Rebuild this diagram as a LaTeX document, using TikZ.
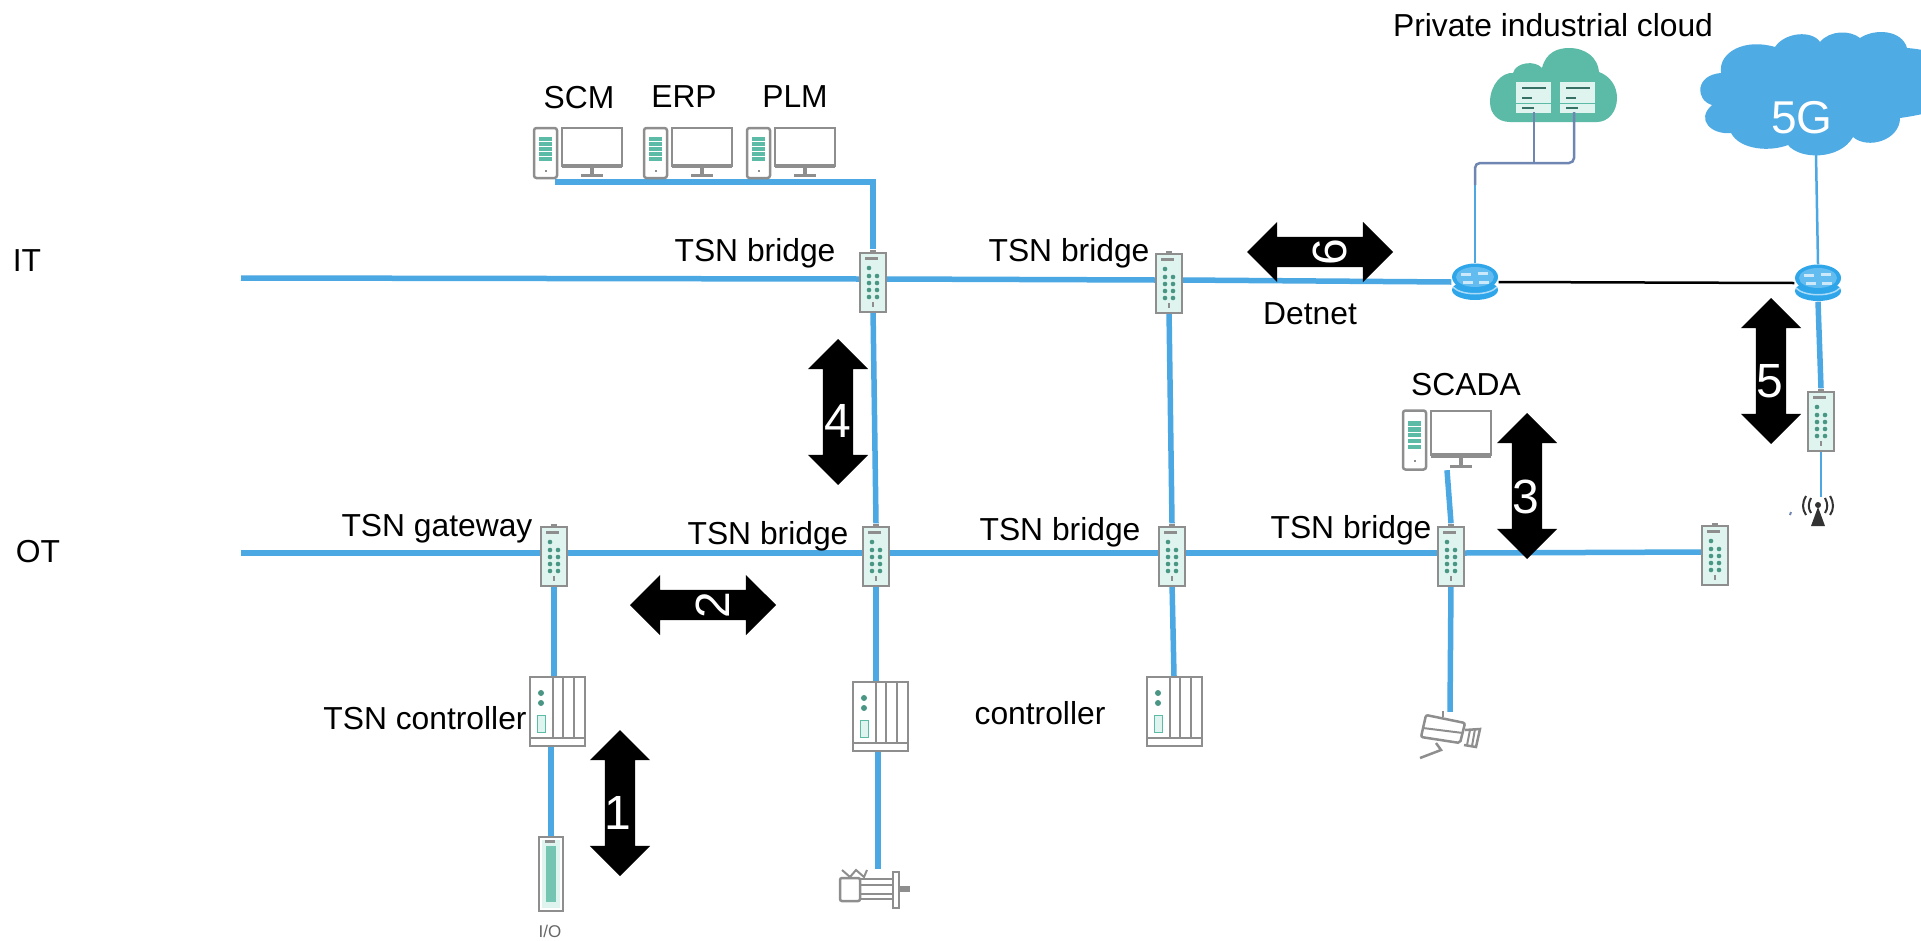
\documentclass[tikz,border=0pt]{standalone}
\usepackage{fontspec}
\setmainfont{Liberation Sans}
\usetikzlibrary{shapes.arrows}
\definecolor{linkblue}{HTML}{4BA8E2}
\definecolor{cloudblue}{HTML}{4FABE4}
\definecolor{routerblue}{HTML}{2FA6EA}
\definecolor{cloudteal}{HTML}{5CBBA6}
\definecolor{iconmint}{HTML}{DFF4EF}
\definecolor{icongrey}{HTML}{8E8E8E}
\definecolor{cablegrey}{HTML}{6F86B2}
\tikzset{
  link/.style={draw=linkblue, line width=5.5},
  thinlink/.style={draw=linkblue, line width=2.5},
  lbl/.style={inner sep=0, font=\fontsize{31.8}{36}\selectfont},
  arrownum/.style={inner sep=0, text=white, font=\fontsize{48}{52}\selectfont},
  blockarrow/.style={double arrow, fill=black, inner xsep=0, inner ysep=15, minimum height=146, minimum width=60, double arrow head extend=15},
  switchbox/.style={inner sep=0, minimum width=26, minimum height=59},
  routerbox/.style={inner sep=0, minimum width=47, minimum height=37},
  ctrlbox/.style={inner sep=0, minimum width=55, minimum height=69},
  switchpic/.pic={
    \draw[icongrey, fill=iconmint, line width=2] (-13,-26) rectangle (13,33);
    \fill[icongrey] (-3,-29) rectangle (3,-26);
    \fill[icongrey] (-8,-22) rectangle (5,-19);
    \fill[cloudteal!80!black] (-4,-11) circle (2.3);
    \foreach \rowy in {-3,4,11,18} {
      \fill[cloudteal!80!black] (-4,\rowy) circle (2.3);
      \fill[cloudteal!80!black] (4,\rowy) circle (2.3);
    }
    \fill[icongrey] (-1,23) rectangle (1,28);
  },
  routerpic/.pic={
    \fill[routerblue] (0,8) ellipse (23 and 10);
    \draw[white!60!routerblue, line width=1.5] (-22,5) .. controls (-14,14) and (14,14) .. (22,5);
    \fill[routerblue] (0,-5) ellipse (23 and 13.5);
    \fill[routerblue!75!white] (0,-5) ellipse (19 and 10);
    \foreach \barx/\bary in {-9/-8,8/-9,-7/0,9/0} {
      \fill[white!75!routerblue] (\barx-5,\bary-1.5) rectangle (\barx+5,\bary+1.5);
    }
  },
  pcpic/.pic={
    \draw[icongrey, fill=white, line width=2.5, rounded corners=2.5] (-44,-25) rectangle (-21,25);
    \foreach \rowy in {-14,-9,-4,1,6} {
      \fill[cloudteal] (-39,\rowy-1.8) rectangle (-26,\rowy+1.8);
    }
    \fill[icongrey] (-33.5,17) rectangle (-31.5,19);
    \draw[icongrey, line width=2] (-16,-25) rectangle (44,13);
    \fill[icongrey] (-16,11) rectangle (44,15);
    \fill[icongrey] (12,15) rectangle (16,21);
    \fill[icongrey] (3,21) rectangle (25,24);
  },
  ctrlpic/.pic={
    \draw[icongrey, fill=white, line width=2] (-27,-34) rectangle (28,35);
    \foreach \divx in {-4,6,17} {
      \draw[icongrey, line width=2] (\divx,-34) -- (\divx,27);
    }
    \draw[icongrey, line width=2.5] (-27,27) -- (28,27);
    \fill[cloudteal!80!black] (-16,-18) circle (3);
    \fill[cloudteal!80!black] (-16,-8) circle (3);
    \draw[cloudteal, fill=iconmint, line width=1] (-20,4) rectangle (-12,21);
  },
  iopic/.pic={
    \draw[icongrey, fill=white, line width=2.5] (-12,-37) rectangle (12,37);
    \fill[iconmint] (-9,-34) rectangle (9,34);
    \fill[cloudteal!85] (-5,-28) rectangle (5,28);
    \fill[icongrey] (-6,-34) rectangle (4,-31);
  },
  motorpic/.pic={
    \draw[icongrey, line width=2.5, rounded corners=2] (-38,-11) rectangle (-18,12);
    \draw[icongrey, line width=2.5] (-18,-10) rectangle (15,10);
    \draw[icongrey, line width=2] (-18,-4) -- (15,-4);
    \draw[icongrey, line width=2] (-18,5) -- (15,5);
    \draw[icongrey, fill=white, line width=2.5] (15,-17) rectangle (21,19);
    \fill[icongrey] (21,-3) rectangle (32,3);
    \draw[icongrey, line width=2] (-36,-19) -- (-28,-12) -- (-22,-19) -- (-14,-12) -- (-11,-19);
  },
  camerapic/.pic={
    \draw[icongrey, line width=2.5, rounded corners=2] (-24,-20) -- (15,-12) -- (10,8) -- (-29,2) -- cycle;
    \draw[icongrey, line width=2] (-27,-7) -- (13,-2);
    \draw[icongrey, line width=2.5] (15,-5) -- (30,-6) -- (26,12) -- (14,10);
    \draw[icongrey, line width=2] (20,-5) -- (17,10);
    \draw[icongrey, line width=2] (25,-6) -- (22,11);
    \draw[icongrey, line width=2.5] (-14,8) -- (-9,15) -- (-30,23);
    \draw[icongrey, line width=2] (-7,-24) -- (-7,-18);
  },
  antennapic/.pic={
    \fill[black!80] (-3,-7) circle (3);
    \fill[black!80] (-3,-5) -- (-10,14) -- (4,14) -- cycle;
    \draw[black!80, line width=2] (-10,-14) .. controls (-13,-8) and (-13,-4) .. (-10,1);
    \draw[black!80, line width=2] (-15,-16) .. controls (-19,-9) and (-19,-3) .. (-15,3);
    \draw[black!80, line width=2] (4,-14) .. controls (7,-8) and (7,-4) .. (4,1);
    \draw[black!80, line width=2] (9,-16) .. controls (13,-9) and (13,-3) .. (9,3);
    \draw[cablegrey, line width=2] (-31,3) -- (-30,0);
  },
}
\begin{document}
\begin{tikzpicture}[x=1pt, y=-1pt]
\useasboundingbox (0,0) rectangle (1921,940);
\clip (0,0) rectangle (1921,940);

% boxes first, the icons go on top of the links
\node[switchbox] (swa) at (873,279) {};
\node[switchbox] (swb) at (1169,280) {};
\node[switchbox] (gw) at (554,553) {};
\node[switchbox] (swc) at (876,553) {};
\node[switchbox] (swd) at (1172,553) {};
\node[switchbox] (swe) at (1451,553) {};
\node[switchbox] (swf) at (1715,552) {};
\node[switchbox] (swg) at (1821,418) {};
\node[routerbox] (rta) at (1475,282) {};
\node[routerbox] (rtb) at (1818,283) {};
\node[ctrlbox] (ctla) at (557,711) {};
\node[ctrlbox] (ctlb) at (880,716) {};
\node[ctrlbox] (ctlc) at (1174,711) {};
\node[inner sep=0, minimum width=24, minimum height=74] (io) at (551,874) {};
\node[inner sep=0, minimum width=70, minimum height=40] (motor) at (878,889) {};
\node[inner sep=0, minimum width=60, minimum height=46] (cam) at (1450,735) {};
\node[inner sep=0, minimum width=90, minimum height=50] (scm) at (578,153) {};
\node[inner sep=0, minimum width=90, minimum height=50] (erp) at (688,153) {};
\node[inner sep=0, minimum width=90, minimum height=50] (plm) at (791,153) {};
\node[inner sep=0, minimum width=90, minimum height=60] (scada) at (1447,440) {};
\node[inner sep=0, minimum width=30, minimum height=30] (ant) at (1821,512) {};
\node[inner sep=0, minimum width=220, minimum height=122] (fiveg) at (1816,94) {};
\coordinate (itstart) at (241,278);
\coordinate (otstart) at (241,553);
\coordinate (busstart) at (555,182);
\coordinate (cldbend) at (1475,185);
\coordinate (cldjoin) at (1534,163);
\coordinate (srva) at (1534,112);
\coordinate (srvb) at (1574,112);

% the two long lines
\draw[link] (itstart) -- (swa.west);
\draw[link] (swa.east) -- (swb.west);
\draw[link] (swb.east) -- (rta.west);
\draw[black, line width=2.5] (rta.east) -- (rtb.west);
\draw[link] (otstart) -- (gw.west);
\draw[link] (gw.east) -- (swc.west);
\draw[link] (swc.east) -- (swd.west);
\draw[link] (swd.east) -- (swe.west);
\draw[link] (swe.east) -- (swf.west);

\draw[link] (busstart) -| (swa.north);
\draw[link] (swa.south) -- (swc.north);
\draw[link] (swb.south) -- (swd.north);
\draw[link] (gw.south) -- (gw.south |- ctla.north);
\draw[link] (io.north |- ctla.south) -- (io.north);
\draw[link] (swc.south) -- (swc.south |- ctlb.north);
\draw[link] (motor.north |- ctlb.south) -- (motor.north);
\draw[link] (swd.south) -- (ctlc.north);
\draw[link] (scada.south) -- (swe.north);
\draw[link] (swe.south) -- (cam.north);
\draw[link] (rtb.south) -- (swg.north);
\draw[thinlink] (swg.south) -- (ant.north);
\draw[thinlink] (fiveg.south) -- (rtb.north);
\draw[thinlink] (rta.north) -- (cldbend);

% clouds
\fill[cloudteal] (1490,102) .. controls (1490,85) and (1502,72) .. (1513,73)
  .. controls (1516,62) and (1535,60) .. (1542,68)
  .. controls (1546,52) and (1558,48) .. (1569,48)
  .. controls (1586,48) and (1598,58) .. (1599,72)
  .. controls (1610,76) and (1617,86) .. (1617,98)
  .. controls (1617,112) and (1608,122) .. (1597,122) -- (1510,122)
  .. controls (1498,122) and (1490,114) .. (1490,102) -- cycle;
\fill[iconmint] (1516,82) rectangle (1551,113);
\fill[iconmint] (1560,82) rectangle (1595,113);
\foreach \srvx in {1516,1560} {
  \fill[cloudteal!60!black] (\srvx+6,87) rectangle (\srvx+30,89);
  \fill[cloudteal!60!black] (\srvx+6,97) rectangle (\srvx+16,99);
  \fill[cloudteal!60!black] (\srvx+6,107) rectangle (\srvx+18,109);
  \draw[cloudteal, line width=1] (\srvx,103) -- (\srvx+35,103);
}
\draw[cablegrey, line width=2.5, rounded corners=5] (cldbend) |- (cldjoin) -| (srvb);
\draw[cablegrey, line width=2.5] (srva) -- (cldjoin);

\fill[cloudblue] (1721,73) .. controls (1718,52) and (1745,38) .. (1775,47)
  .. controls (1785,32) and (1812,30) .. (1820,42)
  .. controls (1830,30) and (1850,30) .. (1860,38)
  .. controls (1875,28) and (1902,30) .. (1907,48)
  .. controls (1935,50) and (1960,60) .. (1960,85)
  .. controls (1960,105) and (1935,113) .. (1900,118)
  .. controls (1900,140) and (1868,150) .. (1853,137)
  .. controls (1840,160) and (1800,160) .. (1788,145)
  .. controls (1770,152) and (1740,150) .. (1731,133)
  .. controls (1712,135) and (1695,120) .. (1712,105)
  .. controls (1695,100) and (1695,75) .. (1721,73) -- cycle;
\node[inner sep=0, text=white, font=\fontsize{46}{50}\selectfont] (lfiveg) at (1802,118) {5G};

% icons
\foreach \sw in {swa,swb,gw,swc,swd,swe,swf,swg} {
  \pic at (\sw) {switchpic};
}
\pic at (rta) {routerpic};
\pic at (rtb) {routerpic};
\foreach \ctl in {ctla,ctlb,ctlc} {
  \pic at (\ctl) {ctrlpic};
}
\pic at (io) {iopic};
\pic at (motor) {motorpic};
\pic at (cam) {camerapic};
\pic at (scm) {pcpic};
\pic at (erp) {pcpic};
\pic at (plm) {pcpic};
\pic[yscale=1.18] at (scada) {pcpic};
\pic at (ant) {antennapic};

% numbered arrows
\node[blockarrow, rotate=90] (arra) at (620,803) {};
\node[blockarrow] (arrb) at (703,605) {};
\node[blockarrow, rotate=90] (arrc) at (1527,486) {};
\node[blockarrow, rotate=90] (arrd) at (838,412) {};
\node[blockarrow, rotate=90] (arre) at (1771,371) {};
\node[blockarrow] (arrf) at (1320,252) {};
\node[arrownum] (na) at (618,813) {1};
\node[arrownum, rotate=90] (nb) at (713,605) {2};
\node[arrownum] (nc) at (1526,497) {3};
\node[arrownum] (nd) at (838,421) {4};
\node[arrownum] (ne) at (1770,381) {5};
\node[arrownum, rotate=90] (nf) at (1330,252) {6};

% labels
\node[lbl] (lscm) at (579,98) {SCM};
\node[lbl] (lerp) at (684,97) {ERP};
\node[lbl] (lplm) at (795,97) {PLM};
\node[lbl] (lit) at (27,261) {IT};
\node[lbl] (lot) at (38,552) {OT};
\node[lbl] (lswa) at (755,253) {TSN bridge};
\node[lbl] (lswb) at (1069,253) {TSN bridge};
\node[lbl] (lswc) at (768,536) {TSN bridge};
\node[lbl] (lswd) at (1060,532) {TSN bridge};
\node[lbl] (lswe) at (1351,530) {TSN bridge};
\node[lbl] (lgw) at (437,529) {TSN gateway};
\node[lbl] (ldet) at (1310,314) {Detnet};
\node[lbl] (lscada) at (1466,385) {SCADA};
\node[lbl] (lcloud) at (1553,25) {Private industrial cloud};
\node[lbl] (lctla) at (425,718) {TSN controller};
\node[lbl] (lctlb) at (1040,713) {controller};
\node[inner sep=0, text=black!60, font=\fontsize{17}{20}\selectfont] (lio) at (550,931) {I/O};
\end{tikzpicture}
\end{document}
